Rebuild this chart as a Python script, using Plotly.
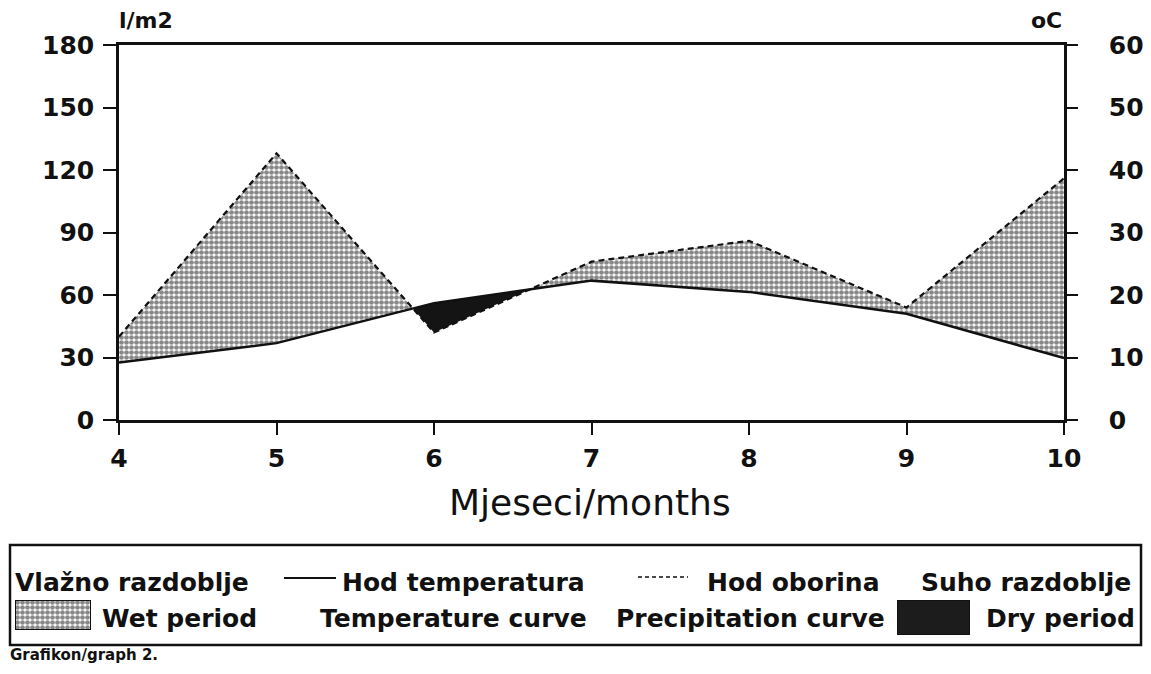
import plotly.graph_objects as go

# ---------------- data ----------------
months = [4, 5, 6, 7, 8, 9, 10]
precipitation = [40, 128, 42, 76, 86, 54, 116]          # l/m2 (left axis)
temperature = [9.2, 12.3, 18.7, 22.3, 20.5, 17.0, 9.9]  # oC (right axis)
y_ticks = [0, 30, 60, 90, 120, 150, 180]
y2_ticks = [0, 10, 20, 30, 40, 50, 60]
x_ticks = [4, 5, 6, 7, 8, 9, 10]

# the page body has an 8px margin; the figure is sized to fit the window
OFF = 8
W, H = 1151 - 2 * OFF, 674 - 2 * OFF
FONT = "DejaVu Sans"


def fx(p):
    return (p - OFF) / W


def fy(p):
    return 1 - (p - OFF) / H


ratio = y_ticks[-1] / y2_ticks[-1]
t_scaled = [t * ratio for t in temperature]

# ---------------- wet / dry polygons (in data space) ----------------
polys = []  # (sign, upper_pts, lower_pts)
diff = [p - t for p, t in zip(precipitation, t_scaled)]
cur_sign = diff[0] >= 0
up = [(months[0], precipitation[0])]
lo = [(months[0], t_scaled[0])]
for i in range(len(months) - 1):
    d0, d1 = diff[i], diff[i + 1]
    if (d1 >= 0) != cur_sign:
        f = d0 / (d0 - d1)
        xc = months[i] + f * (months[i + 1] - months[i])
        yc = precipitation[i] + f * (precipitation[i + 1] - precipitation[i])
        up.append((xc, yc))
        lo.append((xc, yc))
        polys.append((cur_sign, up, lo))
        cur_sign = d1 >= 0
        up = [(xc, yc)]
        lo = [(xc, yc)]
    up.append((months[i + 1], precipitation[i + 1]))
    lo.append((months[i + 1], t_scaled[i + 1]))
polys.append((cur_sign, up, lo))

WET_PATTERN = dict(shape=".", size=5, solidity=0.7, fgcolor="#111111", bgcolor="white")

fig = go.Figure()

for wet, u, l in polys:
    pts = u + l[::-1] + [u[0]]
    xs = [p[0] for p in pts]
    ys = [p[1] for p in pts]
    if wet:
        fig.add_trace(go.Scatter(
            x=xs, y=ys, mode="lines", fill="toself",
            line=dict(width=0), fillcolor="rgba(0,0,0,0)",
            fillpattern=WET_PATTERN, hoverinfo="skip", showlegend=False))
    else:
        fig.add_trace(go.Scatter(
            x=xs, y=ys, mode="lines", fill="toself",
            line=dict(width=0), fillcolor="#141414",
            hoverinfo="skip", showlegend=False))

# precipitation curve (dashed)
fig.add_trace(go.Scatter(x=months, y=precipitation, mode="lines",
                         line=dict(color="#111111", width=2.2, dash="6px,4px"),
                         showlegend=False))
# temperature curve (solid) on right axis
fig.add_trace(go.Scatter(x=months, y=temperature, mode="lines", yaxis="y2",
                         line=dict(color="#111111", width=2.5),
                         showlegend=False))

# ---------------- legend swatches on their own small axes ----------------
sw_x = [0, 1, 1, 0, 0]
sw_y = [0, 0, 1, 1, 0]
fig.add_trace(go.Scatter(x=sw_x, y=sw_y, xaxis="x3", yaxis="y3", mode="lines",
                         fill="toself", fillcolor="rgba(0,0,0,0)",
                         fillpattern=WET_PATTERN,
                         line=dict(color="#111111", width=2), showlegend=False,
                         hoverinfo="skip"))
fig.add_trace(go.Scatter(x=sw_x, y=sw_y, xaxis="x4", yaxis="y4", mode="lines",
                         fill="toself", fillcolor="#1c1c1c",
                         line=dict(color="#111111", width=2), showlegend=False,
                         hoverinfo="skip"))

tickfont = dict(family=FONT, size=25, color="#111111", weight="bold")
axis_line = dict(showline=True, linecolor="#111111", linewidth=2.5,
                 showgrid=False, zeroline=False, ticks="outside",
                 tickcolor="#111111", tickwidth=2, automargin=False)

fig.update_layout(
    width=W, height=H,
    margin=dict(l=0, r=0, t=0, b=0, autoexpand=False),
    paper_bgcolor="white", plot_bgcolor="white",
    showlegend=False,
    xaxis=dict(domain=[fx(119), fx(1064)], range=[months[0], months[-1]],
               tickvals=x_ticks, ticklen=12, tickfont=tickfont,
               mirror=True, ticklabelstandoff=2, **axis_line),
    yaxis=dict(domain=[fy(420), fy(45)], range=[y_ticks[0], y_ticks[-1]],
               tickvals=y_ticks, ticklen=13, tickfont=tickfont,
               ticklabelstandoff=4, **axis_line),
    yaxis2=dict(overlaying="y", side="right", anchor="x",
                range=[y2_ticks[0], y2_ticks[-1]], tickvals=y2_ticks,
                ticklen=11, tickfont=tickfont, ticklabelstandoff=26, **axis_line),
    xaxis3=dict(domain=[fx(15), fx(91)], range=[0, 1], visible=False, fixedrange=True,
                anchor="y3"),
    yaxis3=dict(domain=[fy(630), fy(600)], range=[0, 1], visible=False, fixedrange=True,
                anchor="x3"),
    xaxis4=dict(domain=[fx(897), fx(970)], range=[0, 1], visible=False, fixedrange=True,
                anchor="y4"),
    yaxis4=dict(domain=[fy(635), fy(600)], range=[0, 1], visible=False, fixedrange=True,
                anchor="x4"),
)

# ---------------- shapes: legend box and legend line samples ----------------
shapes = [
    dict(type="rect", xref="paper", yref="paper", x0=fx(10), x1=fx(1141),
         y0=fy(645), y1=fy(545), line=dict(color="#111111", width=2.5)),
    dict(type="line", xref="paper", yref="paper", x0=fx(284), x1=fx(336),
         y0=fy(578), y1=fy(578), line=dict(color="#111111", width=2)),
    dict(type="line", xref="paper", yref="paper", x0=fx(638), x1=fx(688),
         y0=fy(577), y1=fy(577), line=dict(color="#111111", width=1.5, dash="4px,3px")),
]
fig.update_layout(shapes=shapes)

bold = dict(family=FONT, size=25, color="#111111", weight="bold")


def ann(text, x, y, xanchor="left", font=bold):
    return dict(text=text, x=fx(x), y=fy(y), xref="paper", yref="paper",
                xanchor=xanchor, yanchor="middle", showarrow=False, font=font,
                borderpad=0)


annotations = [
    ann("l/m2", 146, 21, "center", dict(family=FONT, size=22, color="#111111", weight="bold")),
    ann("oC", 1046, 21, "center", dict(family=FONT, size=22, color="#111111", weight="bold")),
    ann("Mjeseci/months", 590, 502, "center", dict(family=FONT, size=36, color="#111111")),
    ann("Vlažno razdoblje", 14, 582),
    ann("Hod temperatura", 586, 582, "right"),
    ann("Hod oborina", 881, 582, "right"),
    ann("Suho razdoblje", 1132, 582, "right"),
    ann("Wet period", 101, 618),
    ann("Temperature curve", 588, 618, "right"),
    ann("Precipitation curve", 886, 618, "right"),
    ann("Dry period", 1136, 618, "right"),
    ann("Grafikon/graph 2.", 9, 655, "left", dict(family=FONT, size=15, color="#111111", weight="bold")),
]
fig.update_layout(annotations=annotations)

fig.write_html("out.html")
